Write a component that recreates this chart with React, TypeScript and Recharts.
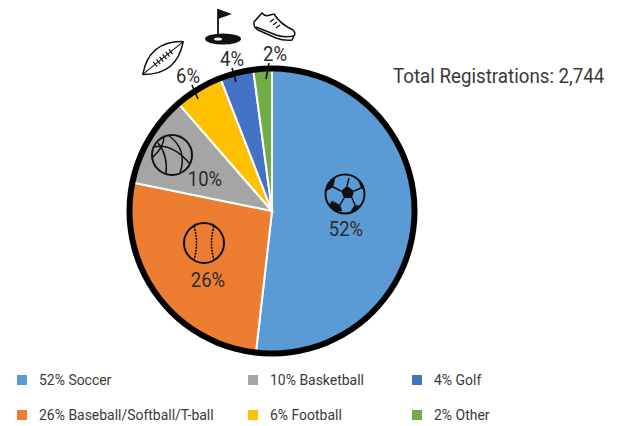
import React from "react";
import { PieChart, Pie, Cell, Legend } from "recharts";

const categories = ["Soccer", "Baseball/Softball/T-ball", "Basketball", "Football", "Golf", "Other"];
// rounded numbers printed on the chart
const shares = [52, 26, 10, 6, 4, 2];
// slice sizes
const sliceValues = [51.8, 26.4, 10.4, 5.5, 3.8, 2.1];
const colors = ["#5B9BD5", "#ED7D31", "#A5A5A5", "#FFC000", "#4472C4", "#70AD47"];
const title = "Total Registrations: 2,744";

// label centres relative to pie centre, same order as categories
const labelOffsets = [[74, 17], [-64, 68], [-67, -33], [-84, -136], [-40, -153], [3, -158]];
// short leader lines across the ring for the small slices
const leaders = [null, null, null, [-80, -126, -74, -112], [-40, -143, -36, -129], [-3, -148, -6, -132]];

const CX = 272;
const CY = 211;
const FONT = "Roboto, sans-serif";
const TEXT = "#3a3a3a";

const data = categories.map((name, i) => ({ name, value: sliceValues[i] }));
const ring = [{ name: "ring", value: 100 }];

function SliceLabel({ index, cx, cy }: any) {
  const [dx, dy] = labelOffsets[index];
  const l = leaders[index];
  return (
    <g>
      {l ? <line x1={cx + l[0]} y1={cy + l[1]} x2={cx + l[2]} y2={cy + l[3]} stroke="#111" strokeWidth={1.6} /> : null}
      <text
        transform={`translate(${cx + dx} ${cy + dy + 7.5}) scale(0.88 1)`}
        textAnchor="middle"
        fontFamily={FONT}
        fontSize={21}
        fill="#2b2b2b"
      >
        {shares[index]}%
      </text>
    </g>
  );
}

function LegendGrid({ payload }: any) {
  const items = (payload || []).filter((p: any) => categories.includes(p.value));
  return (
    <div style={{ position: "relative", width: 620, height: 60 }}>
      {items.map((p: any, i: number) => {
        const col = [17, 248, 412][Math.floor(i / 2)];
        const row = i % 2 === 0 ? 0 : 35;
        return (
          <div key={p.value} style={{ position: "absolute", left: col, top: row, height: 20, display: "flex", alignItems: "center" }}>
            <span style={{ width: 10, height: 10, background: p.color, display: "block" }} />
            <span
              style={{
                marginLeft: 12,
                font: `15px ${FONT}`,
                color: TEXT,
                whiteSpace: "nowrap",
                display: "block",
                transform: "scaleX(0.93)",
                transformOrigin: "left center",
              }}
            >
              {shares[i]}% {p.value}
            </span>
          </div>
        );
      })}
    </div>
  );
}

function Icons() {
  const ink = { fill: "none", stroke: "#111", strokeWidth: 1.5 };
  return (
    <svg width={620} height={426} style={{ position: "absolute", left: 0, top: 0, pointerEvents: "none" }}>
      {/* soccer ball */}
      <g transform="translate(345 194)">
        <circle r={19.5} fill="none" stroke="#111" strokeWidth={2} />
        <path d="M2 -8 L9 -3 L7 4 L-1 4 L-4 -3 Z" fill="#111" />
        <path d="M2 -8 L4 -16 M9 -3 L16 -6 M7 4 L10 11 M-1 4 L-5 11 M-4 -3 L-12 -7" {...ink} />
        <path d="M-5 11 L-13 7 L-16 11 L-9 17 L-3 17 Z M10 11 L15 12 L11 16 L6 17 Z M-12 -7 L-10 -16 L-16 -11 L-19 -3 Z M16 -6 L14 -13 L18 -8 L19 -4 Z" fill="#111" stroke="#111" strokeWidth={0.5} />
      </g>
      {/* baseball */}
      <g transform="translate(204 243)">
        <circle r={20} fill="none" stroke="#111" strokeWidth={2} />
        <path d="M-10 -17 Q-5 0 -10 17 M10 -17 Q5 0 10 17" fill="none" stroke="#111" strokeWidth={1.6} strokeDasharray="2 1" />
      </g>
      {/* basketball */}
      <g transform="translate(172 155)">
        <circle r={20} fill="none" stroke="#111" strokeWidth={2} />
        <path d="M-18 -8 Q0 -12 18 9 M-4 -20 Q16 -6 8 18 M-20 3 Q-8 -8 -8 -18 M-6 19 Q-4 0 -14 -12" {...ink} />
      </g>
      {/* football */}
      <g transform="translate(163 58) rotate(-39)">
        <path d="M-26 0 Q0 -22 26 0 Q0 22 -26 0 Z" fill="#fff" stroke="#111" strokeWidth={1.5} />
        <path d="M-26 0 L26 0" stroke="#111" strokeWidth={1} />
        <path d="M-10 -3 V3 M-6 -3 V3 M-2 -3 V3 M2 -3 V3 M6 -3 V3 M10 -3 V3" stroke="#111" strokeWidth={1.2} />
      </g>
      {/* golf flag */}
      <g>
        <ellipse cx={223} cy={39} rx={18} ry={5.5} fill="#111" />
        <ellipse cx={218} cy={39} rx={4} ry={1.6} fill="#fff" />
        <path d="M218 9 V36" stroke="#111" strokeWidth={1.8} />
        <path d="M218 9 L232 14 L218 19 Z" fill="#111" />
      </g>
      {/* shoe */}
      <g>
        <path d="M254 22 L262 13 Q265 17 270 15 L274 14 Q280 24 293 30 Q296 33 294 36 L292 40 Q284 41 276 38 L258 30 Q253 27 254 22 Z" fill="#fff" stroke="#111" strokeWidth={1.5} />
        <path d="M256 27 L276 35 Q285 38 294 36" {...ink} />
        <path d="M274 19 L270 22 M277 22 L273 25 M280 25 L276 28" stroke="#111" strokeWidth={1.2} />
      </g>
    </svg>
  );
}

export default function App() {
  return (
    <div style={{ position: "absolute", left: 0, top: 0, width: 620, height: 426 }}>
      <PieChart width={620} height={426} margin={{ top: 0, right: 0, bottom: 0, left: 0 }}>
        <Pie
          data={data}
          dataKey="value"
          nameKey="name"
          cx={CX}
          cy={CY}
          innerRadius={0}
          outerRadius={141}
          startAngle={90}
          endAngle={-270}
          stroke="#fff"
          strokeWidth={2}
          isAnimationActive={false}
          labelLine={false}
          label={SliceLabel}
        >
          {data.map((entry, i) => (
            <Cell key={entry.name} fill={colors[i]} />
          ))}
        </Pie>
        <Pie
          data={ring}
          dataKey="value"
          cx={CX}
          cy={CY}
          innerRadius={139.5}
          outerRadius={145.5}
          startAngle={90}
          endAngle={-270}
          fill="#000"
          stroke="none"
          legendType="none"
          isAnimationActive={false}
        />
        <text
          transform="translate(393 83) scale(0.915 1)"
          fontFamily={FONT}
          fontSize={20.5}
          fill={TEXT}
        >
          {title}
        </text>
        <Legend
          content={<LegendGrid />}
          itemSorter={null}
          wrapperStyle={{ position: "absolute", left: 0, top: 370, width: 620, height: 60 }}
        />
      </PieChart>
      <Icons />
    </div>
  );
}
